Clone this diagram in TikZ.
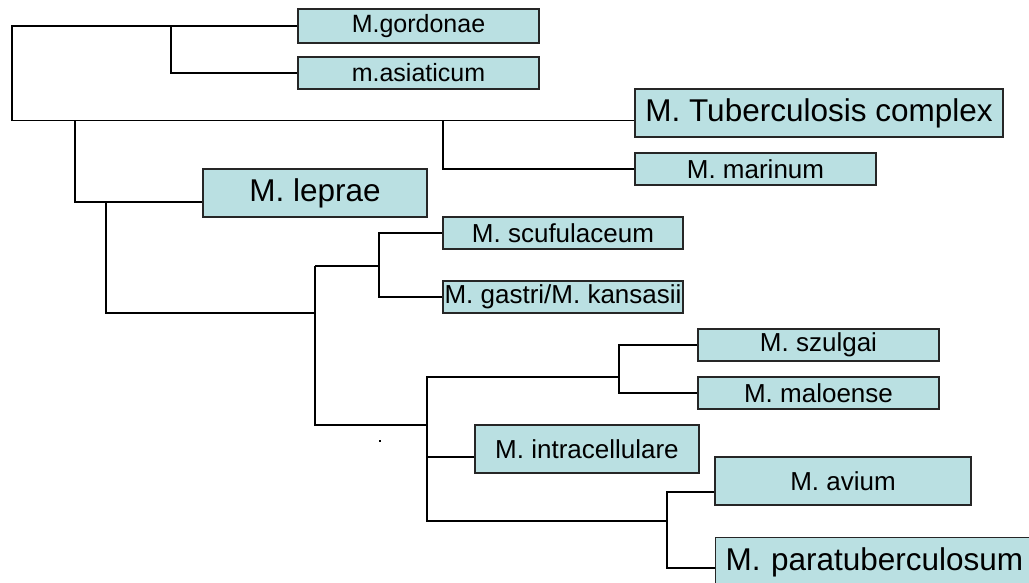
\documentclass[tikz,border=0pt]{standalone}
\usepackage{fontspec}
\setmainfont{Liberation Sans}
\definecolor{boxfill}{RGB}{186,224,226}
\begin{document}
\begin{tikzpicture}[x=1pt,y=-1pt,
  box/.style={draw=black!85, line width=1.2pt, fill=boxfill, inner sep=0pt,
    font=\fontsize{26}{30}\selectfont},
  smtext/.style={font=\fontsize{25}{30}\selectfont},
  lgtext/.style={font=\fontsize{31.5}{36}\selectfont},
  link/.style={line width=1.3pt, draw=black}]
\useasboundingbox (0,0) rectangle (1029,582);
% boxes
\node[box,smtext,minimum width=241pt,minimum height=34pt] (gor) at (418.5,26) {M.gordonae};
\node[box,smtext,minimum width=241pt,minimum height=32pt] (asi) at (418.5,73) {m.asiaticum};
\node[box,lgtext,minimum width=368pt,minimum height=48pt] (tb) at (819,113) {M. Tuberculosis complex};
\node[box,minimum width=241pt,minimum height=32pt] (mar) at (755.5,169) {M. marinum};
\node[box,lgtext,minimum width=224pt,minimum height=48pt] (lep) at (315,193) {M. leprae};
\node[box,minimum width=240pt,minimum height=32pt] (scu) at (563,233) {M. scufulaceum};
\node[box,minimum width=240pt,minimum height=32pt] (gas) at (563,297) {M. gastri/M. kansasii};
\node[box,minimum width=241pt,minimum height=32pt] (szu) at (818.5,345) {M. szulgai};
\node[box,minimum width=241pt,minimum height=32pt] (mal) at (818.5,393) {M. maloense};
\node[box,minimum width=224pt,minimum height=48pt] (int) at (587,449) {M. intracellulare};
\node[box,minimum width=256pt,minimum height=48pt] (avi) at (843,481) {M. avium};
\node[box,lgtext,anchor=north west,text width=310pt,align=left,inner xsep=10pt,
  minimum height=50pt] (par) at (715,537) {M. paratuberculosum};
% junctions
\coordinate (c0) at (12,73);
\coordinate (c1) at (171,25);
\coordinate (c2) at (443,121);
\coordinate (c3) at (75,121);
\coordinate (c4) at (106,202);
\coordinate (c5) at (315,313);
\coordinate (c6) at (315,266);
\coordinate (c8) at (379,266);
\coordinate (c9) at (427,425);
\coordinate (c10) at (619,377);
\coordinate (k1) at (427,521);
\coordinate (k2) at (667,521);
\coordinate (tbin) at ([yshift=-7.5pt]tb.west);
\coordinate (lepin) at ([yshift=-9pt]lep.west);
\coordinate (intin) at ([yshift=-8pt]int.west);
\coordinate (aviin) at ([yshift=-11pt]avi.west);
\coordinate (parin) at ([yshift=-31pt]par.north west);
% connectors
\draw[link] (gor.west) -| (c0) |- (tbin);
\draw[link] (c1) |- (asi.west);
\draw[link] (c2) |- (mar.west);
\draw[link] (c3) |- (lepin);
\draw[link] (c4) |- (c5);
\draw[link] (scu.west) -| (c8) |- (gas.west);
\draw[link] (c8) -- (c6);
\draw[link] (c6) |- (c9);
\draw[link] (szu.west) -| (c10) |- (mal.west);
\draw[link] (c10) -| (k1) -- (k2);
\draw[link] (intin) -- (intin -| k1);
\draw[link] (aviin) -| (k2) |- (parin);
% stray dot
\fill (379,440) rectangle (381,442);
\end{tikzpicture}
\end{document}
